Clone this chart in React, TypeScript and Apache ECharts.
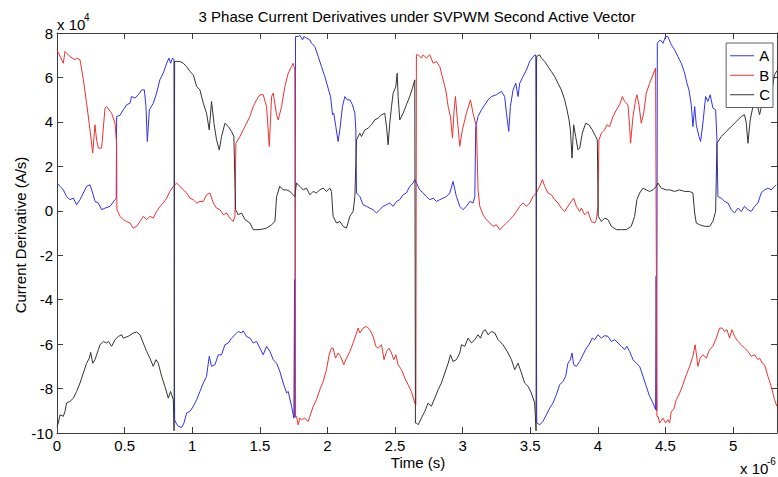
import React, { useEffect, useRef } from "react";
import * as echarts from "echarts";

const titleText = "3 Phase Current Derivatives under SVPWM Second Active Vector";
const xAxisName = "Time (s)";
const yAxisName = "Current Derivative (A/s)";
const seriesNames = ["A", "B", "C"];
const xRange = [0, 5.325];
const yRange = [-10, 8];

const seriesA: [number, number][] = [
  [0.000, 1.25], [0.022, 1.10], [0.047, 0.94], [0.071, 0.64], [0.096, 0.50], [0.121, 0.57], [0.145, 0.27], [0.170, 0.50],
  [0.195, 0.80], [0.219, 1.10], [0.244, 1.17], [0.264, 0.80], [0.281, 0.42], [0.306, 0.35], [0.330, 0.05], [0.355, 0.12],
  [0.392, 0.20], [0.429, 0.50], [0.438, 0.55], [0.441, 4.24], [0.466, 4.30], [0.490, 4.54], [0.515, 4.77], [0.540, 4.84],
  [0.552, 5.14], [0.577, 5.07], [0.601, 5.22], [0.626, 5.44], [0.646, 5.44], [0.658, 4.70], [0.668, 3.12], [0.683, 4.54],
  [0.712, 4.84], [0.737, 5.30], [0.761, 5.90], [0.786, 6.20], [0.811, 6.64], [0.828, 6.87], [0.840, 6.64], [0.855, 6.87],
  [0.865, 6.80], [0.867, -2.90], [0.870, -9.40], [0.880, -9.55], [0.897, -9.70], [0.922, -9.75], [0.939, -9.55], [0.959, -9.10],
  [0.983, -9.03], [1.008, -8.80], [1.033, -8.50], [1.057, -8.13], [1.082, -7.75], [1.106, -7.45], [1.126, -6.55], [1.143, -7.00],
  [1.168, -6.93], [1.193, -6.48], [1.217, -6.48], [1.242, -6.03], [1.267, -5.95], [1.291, -5.73], [1.316, -5.58], [1.340, -5.43],
  [1.365, -5.50], [1.377, -5.40], [1.402, -5.66], [1.427, -5.73], [1.451, -5.95], [1.476, -5.88], [1.501, -6.18], [1.525, -6.48],
  [1.550, -6.10], [1.575, -6.33], [1.599, -6.70], [1.624, -6.86], [1.648, -7.23], [1.673, -7.75], [1.698, -8.20], [1.710, -8.13],
  [1.735, -8.80], [1.752, -9.33], [1.757, -3.10], [1.760, -9.30], [1.764, 7.84], [1.784, 7.84], [1.796, 7.90], [1.816, 7.69],
  [1.826, 7.84], [1.845, 7.77], [1.870, 7.69], [1.882, 7.54], [1.907, 7.39], [1.932, 6.94], [1.956, 6.49], [1.981, 6.04],
  [2.005, 5.52], [2.023, 5.14], [2.038, 4.32], [2.047, 4.39], [2.062, 3.79], [2.079, 3.12], [2.092, 3.64], [2.111, 4.69],
  [2.129, 5.14], [2.146, 4.99], [2.166, 4.99], [2.185, 4.77], [2.203, 4.39], [2.210, 3.64], [2.215, 0.80], [2.240, 0.64],
  [2.264, 0.27], [2.289, 0.20], [2.313, 0.12], [2.338, 0.05], [2.363, -0.10], [2.387, 0.05], [2.412, 0.20], [2.437, 0.27],
  [2.461, 0.35], [2.486, 0.20], [2.511, 0.42], [2.535, 0.50], [2.560, 0.72], [2.584, 0.80], [2.609, 1.10], [2.634, 1.25],
  [2.646, 1.40], [2.658, 1.25], [2.683, 0.94], [2.708, 0.80], [2.732, 0.64], [2.757, 0.50], [2.782, 0.57], [2.806, 0.42],
  [2.831, 0.50], [2.856, 0.57], [2.880, 0.64], [2.905, 0.80], [2.929, 1.32], [2.954, 0.64], [2.979, 0.20], [3.003, 0.05],
  [3.028, 0.20], [3.053, 0.42], [3.077, 0.35], [3.090, 0.64], [3.097, 3.79], [3.114, 4.24], [3.139, 4.54], [3.164, 4.77],
  [3.188, 4.99], [3.213, 5.14], [3.250, 5.22], [3.287, 5.37], [3.311, 5.14], [3.324, 4.39], [3.341, 3.57], [3.353, 4.69],
  [3.373, 5.44], [3.393, 5.74], [3.410, 5.14], [3.422, 5.74], [3.447, 6.04], [3.472, 6.34], [3.496, 6.72], [3.521, 6.94],
  [3.541, 7.02], [3.545, -3.00], [3.548, -9.50], [3.550, -9.55], [3.570, -9.63], [3.594, -9.48], [3.619, -9.18], [3.644, -8.88],
  [3.668, -8.65], [3.693, -8.28], [3.718, -7.83], [3.742, -7.68], [3.762, -7.45], [3.779, -6.86], [3.797, -6.70], [3.809, -6.40],
  [3.821, -6.93], [3.841, -7.00], [3.866, -6.78], [3.890, -6.48], [3.915, -6.18], [3.934, -6.03], [3.959, -5.73], [3.976, -5.80],
  [4.001, -5.58], [4.026, -5.73], [4.050, -5.62], [4.075, -5.65], [4.100, -5.88], [4.124, -5.80], [4.149, -5.95], [4.174, -6.10],
  [4.198, -6.25], [4.215, -6.10], [4.235, -6.33], [4.260, -6.70], [4.284, -6.86], [4.309, -7.00], [4.334, -7.45], [4.358, -7.90],
  [4.383, -8.35], [4.408, -8.65], [4.427, -8.95], [4.431, -2.95], [4.435, -9.00], [4.440, 7.54], [4.445, 7.54], [4.462, 7.69],
  [4.482, 7.54], [4.501, 7.84], [4.518, 7.84], [4.543, 7.47], [4.568, 7.24], [4.592, 6.94], [4.617, 6.64], [4.642, 6.19],
  [4.659, 5.74], [4.674, 5.44], [4.691, 4.77], [4.703, 3.79], [4.716, 4.69], [4.728, 3.87], [4.748, 3.34], [4.760, 3.12],
  [4.777, 3.94], [4.797, 5.14], [4.814, 4.92], [4.831, 5.22], [4.851, 4.62], [4.871, 4.54], [4.881, 3.19], [4.888, 0.64],
  [4.913, 0.57], [4.937, 0.42], [4.962, 0.35], [4.987, 0.05], [5.011, -0.10], [5.036, 0.12], [5.061, -0.03], [5.085, 0.20],
  [5.110, 0.05], [5.135, -0.03], [5.159, 0.20], [5.184, 0.35], [5.208, 0.80], [5.233, 0.94], [5.258, 1.02], [5.282, 0.94],
  [5.319, 1.17],
];

const seriesB: [number, number][] = [
  [0.000, 7.24], [0.047, 6.64], [0.059, 7.17], [0.096, 6.94], [0.133, 6.80], [0.145, 6.87], [0.170, 6.80], [0.195, 5.90],
  [0.219, 4.84], [0.244, 3.64], [0.264, 2.60], [0.281, 3.87], [0.293, 3.19], [0.306, 2.82], [0.330, 2.82], [0.355, 4.62],
  [0.367, 4.69], [0.404, 4.39], [0.429, 3.94], [0.441, 3.00], [0.443, 0.05], [0.466, -0.25], [0.490, -0.40], [0.515, -0.48],
  [0.540, -0.55], [0.564, -0.78], [0.589, -0.70], [0.614, -0.48], [0.638, -0.25], [0.663, -0.40], [0.687, -0.25], [0.712, -0.33],
  [0.737, -0.03], [0.761, 0.20], [0.786, 0.35], [0.811, 0.57], [0.835, 0.87], [0.860, 1.10], [0.885, 1.25], [0.909, 1.10],
  [0.934, 0.94], [0.959, 0.80], [0.983, 0.57], [1.008, 0.50], [1.033, 0.35], [1.057, 0.42], [1.082, 0.42], [1.106, 0.72],
  [1.131, 0.80], [1.156, 0.35], [1.180, 0.12], [1.205, 0.05], [1.230, -0.18], [1.254, -0.10], [1.279, -0.33], [1.303, -0.48],
  [1.316, -0.25], [1.323, 3.04], [1.353, 3.34], [1.377, 3.64], [1.402, 3.94], [1.427, 4.24], [1.451, 4.69], [1.476, 4.99],
  [1.501, 5.22], [1.525, 5.22], [1.550, 4.69], [1.562, 3.64], [1.570, 2.90], [1.587, 5.14], [1.599, 5.29], [1.624, 4.32],
  [1.636, 4.09], [1.661, 4.69], [1.685, 5.59], [1.710, 6.19], [1.735, 6.49], [1.747, 6.64], [1.759, 6.34], [1.763, -9.25],
  [1.771, -9.25], [1.784, -9.63], [1.796, -9.33], [1.808, -9.40], [1.833, -9.33], [1.858, -9.48], [1.870, -9.25], [1.895, -8.80],
  [1.919, -8.50], [1.944, -8.05], [1.969, -7.68], [1.993, -7.15], [2.013, -6.48], [2.030, -6.18], [2.042, -6.18], [2.060, -6.63],
  [2.079, -6.40], [2.097, -6.55], [2.121, -6.93], [2.141, -6.63], [2.166, -6.33], [2.190, -5.95], [2.215, -5.50], [2.227, -5.28],
  [2.240, -5.50], [2.264, -5.28], [2.289, -5.20], [2.313, -5.35], [2.338, -5.65], [2.358, -6.10], [2.375, -6.18], [2.400, -6.03],
  [2.419, -6.70], [2.437, -6.33], [2.456, -6.18], [2.474, -6.40], [2.491, -6.70], [2.506, -6.48], [2.523, -6.93], [2.548, -7.15],
  [2.572, -7.53], [2.597, -7.83], [2.621, -8.13], [2.646, -8.65], [2.654, -8.73], [2.658, 7.02], [2.671, 7.02], [2.695, 6.87],
  [2.708, 7.02], [2.732, 6.87], [2.757, 7.02], [2.782, 6.64], [2.806, 6.72], [2.831, 6.49], [2.856, 5.89], [2.875, 5.44],
  [2.893, 4.69], [2.910, 4.24], [2.925, 3.27], [2.937, 4.54], [2.947, 5.14], [2.959, 4.24], [2.979, 2.90], [2.998, 3.64],
  [3.028, 4.39], [3.058, 4.99], [3.077, 4.39], [3.102, 3.79], [3.114, 0.95], [3.127, 0.20], [3.151, -0.18], [3.176, -0.40],
  [3.201, -0.55], [3.225, -0.70], [3.250, -0.63], [3.274, -0.85], [3.299, -0.70], [3.324, -0.55], [3.348, -0.40], [3.373, -0.25],
  [3.398, -0.03], [3.422, 0.20], [3.447, 0.35], [3.472, 0.20], [3.496, 0.35], [3.521, 0.64], [3.545, 0.80], [3.570, 1.10],
  [3.590, 1.40], [3.607, 1.10], [3.631, 0.80], [3.656, 0.72], [3.681, 0.50], [3.705, 0.35], [3.730, 0.12], [3.755, -0.03],
  [3.779, 0.20], [3.804, 0.42], [3.821, 0.57], [3.841, 0.20], [3.866, -0.03], [3.878, 0.12], [3.903, -0.18], [3.927, -0.03],
  [3.952, -0.48], [3.976, -0.55], [3.989, -0.40], [4.001, 0.20], [4.008, 3.19], [4.026, 3.49], [4.050, 3.64], [4.068, 3.87],
  [4.087, 3.79], [4.112, 4.24], [4.137, 4.54], [4.161, 4.77], [4.181, 5.14], [4.198, 4.92], [4.223, 4.77], [4.235, 3.79],
  [4.242, 3.04], [4.260, 4.24], [4.279, 4.99], [4.289, 5.22], [4.304, 4.77], [4.321, 3.94], [4.339, 4.39], [4.358, 5.29],
  [4.383, 5.74], [4.408, 6.12], [4.427, 6.42], [4.437, -9.25], [4.445, -9.25], [4.457, -9.55], [4.482, -9.33], [4.501, -9.55],
  [4.518, -9.40], [4.531, -9.55], [4.543, -9.03], [4.560, -8.95], [4.580, -8.50], [4.605, -8.20], [4.629, -7.83], [4.654, -7.38],
  [4.679, -7.00], [4.703, -6.55], [4.720, -6.03], [4.740, -7.00], [4.757, -6.63], [4.777, -6.48], [4.802, -6.63], [4.826, -6.25],
  [4.851, -6.10], [4.876, -5.73], [4.900, -5.28], [4.920, -5.28], [4.937, -5.43], [4.955, -5.35], [4.974, -5.73], [4.992, -5.35],
  [5.011, -5.65], [5.036, -5.88], [5.061, -6.03], [5.085, -6.18], [5.110, -6.33], [5.135, -6.55], [5.159, -6.48], [5.184, -6.70],
  [5.196, -6.63], [5.216, -6.85], [5.233, -6.93], [5.258, -7.45], [5.282, -7.90], [5.307, -8.50], [5.324, -8.80],
];

const seriesC: [number, number][] = [
  [0.000, -9.70], [0.010, -9.55], [0.022, -9.18], [0.047, -9.25], [0.059, -9.03], [0.071, -8.65], [0.096, -8.58], [0.121, -8.43],
  [0.145, -8.13], [0.170, -7.75], [0.195, -7.30], [0.219, -6.86], [0.239, -6.63], [0.249, -6.37], [0.264, -6.86], [0.281, -6.70],
  [0.306, -6.25], [0.318, -6.03], [0.343, -5.88], [0.367, -5.95], [0.380, -5.88], [0.404, -6.10], [0.429, -5.80], [0.453, -5.66],
  [0.478, -5.58], [0.490, -5.73], [0.527, -5.65], [0.564, -5.50], [0.589, -5.46], [0.614, -5.58], [0.638, -5.95], [0.663, -6.33],
  [0.687, -6.63], [0.712, -7.00], [0.732, -6.70], [0.749, -6.86], [0.774, -7.45], [0.798, -7.90], [0.823, -8.43], [0.840, -8.13],
  [0.860, -8.50], [0.866, -9.90], [0.870, 6.72], [0.885, 6.72], [0.909, 6.72], [0.934, 6.64], [0.959, 6.49], [0.983, 6.27],
  [1.008, 6.12], [1.033, 5.59], [1.057, 5.44], [1.082, 4.84], [1.106, 4.39], [1.126, 3.64], [1.143, 4.92], [1.161, 3.94],
  [1.180, 3.19], [1.200, 2.74], [1.217, 3.34], [1.242, 3.94], [1.267, 3.79], [1.291, 3.57], [1.308, 3.34], [1.321, 0.05],
  [1.340, -0.18], [1.365, -0.10], [1.390, -0.40], [1.427, -0.55], [1.451, -0.85], [1.501, -0.85], [1.550, -0.78], [1.587, -0.63],
  [1.612, -0.48], [1.624, 0.64], [1.648, 1.10], [1.673, 0.94], [1.698, 0.94], [1.722, 0.87], [1.747, 0.72], [1.759, 0.64],
  [1.771, 1.25], [1.796, 1.10], [1.821, 0.94], [1.845, 1.02], [1.870, 0.72], [1.895, 0.87], [1.919, 0.80], [1.944, 0.94],
  [1.969, 1.02], [1.993, 0.87], [2.018, 1.02], [2.030, 0.87], [2.042, -0.25], [2.067, -0.55], [2.092, -0.48], [2.116, -0.70],
  [2.141, -0.78], [2.166, -0.25], [2.190, -0.03], [2.203, 0.64], [2.215, 3.19], [2.240, 3.49], [2.252, 3.34], [2.277, 3.64],
  [2.301, 3.72], [2.326, 3.87], [2.350, 4.09], [2.375, 4.17], [2.400, 4.32], [2.424, 4.39], [2.437, 3.79], [2.449, 2.97],
  [2.461, 3.94], [2.474, 4.69], [2.486, 5.29], [2.506, 5.59], [2.516, 6.19], [2.523, 5.14], [2.535, 4.09], [2.560, 4.39],
  [2.584, 4.77], [2.609, 5.14], [2.629, 5.52], [2.646, 5.89], [2.651, -9.55], [2.658, -9.55], [2.671, -9.63], [2.695, -9.33],
  [2.720, -9.03], [2.745, -8.65], [2.769, -8.80], [2.794, -8.43], [2.819, -8.05], [2.843, -7.75], [2.868, -7.30], [2.893, -6.86],
  [2.910, -6.48], [2.929, -6.78], [2.954, -6.70], [2.979, -6.40], [2.991, -6.03], [3.016, -6.10], [3.040, -5.73], [3.065, -5.95],
  [3.090, -5.80], [3.114, -5.58], [3.132, -5.73], [3.151, -5.43], [3.168, -5.35], [3.188, -5.58], [3.213, -5.43], [3.238, -5.50],
  [3.262, -5.80], [3.299, -6.03], [3.336, -6.40], [3.361, -6.70], [3.385, -7.15], [3.410, -6.86], [3.435, -7.30], [3.459, -7.75],
  [3.484, -7.90], [3.508, -8.20], [3.533, -8.65], [3.543, -9.90], [3.547, 6.94], [3.570, 7.02], [3.582, 6.87], [3.607, 6.72],
  [3.631, 6.49], [3.656, 6.27], [3.681, 6.04], [3.705, 5.74], [3.730, 5.44], [3.755, 4.99], [3.772, 4.54], [3.787, 4.09],
  [3.797, 3.64], [3.809, 2.37], [3.821, 3.87], [3.836, 3.34], [3.853, 2.74], [3.866, 2.82], [3.885, 3.49], [3.910, 3.94],
  [3.934, 3.87], [3.959, 3.64], [3.984, 3.34], [3.996, 3.19], [4.003, -0.25], [4.026, -0.48], [4.050, -0.33], [4.075, -0.40],
  [4.100, -0.70], [4.137, -0.85], [4.174, -0.85], [4.210, -0.85], [4.247, -0.70], [4.272, -0.25], [4.289, 0.50], [4.309, 0.80],
  [4.334, 1.02], [4.358, 0.94], [4.383, 0.87], [4.408, 0.94], [4.432, 1.10], [4.445, 1.25], [4.469, 1.02], [4.506, 0.94],
  [4.531, 0.94], [4.568, 0.87], [4.604, 0.94], [4.642, 0.87], [4.679, 0.87], [4.703, 0.80], [4.716, -0.10], [4.728, -0.55],
  [4.753, -0.63], [4.790, -0.70], [4.827, -0.70], [4.851, -0.48], [4.871, -0.03], [4.881, 3.04], [4.913, 3.34], [4.950, 3.57],
  [4.987, 3.79], [5.024, 4.02], [5.061, 4.24], [5.085, 4.32], [5.098, 3.94], [5.110, 3.04], [5.127, 4.09], [5.147, 4.69],
  [5.171, 4.99], [5.196, 4.32], [5.221, 4.99], [5.258, 4.77], [5.282, 5.29], [5.307, 6.12], [5.324, 6.30],
];

const FONT = "'Liberation Sans', Arial, Helvetica, sans-serif";
const AXIS_COLOR = "#3c3c3c";
const LINE_COLORS = ["#3030f0", "#ee3030", "#333333"];

export default function App() {
  const ref = useRef<HTMLDivElement>(null);

  useEffect(() => {
    if (!ref.current) return;
    const chart = echarts.init(ref.current, undefined, { renderer: "svg" });

    const axisCommon = {
      type: "value" as const,
      splitLine: { show: false },
      axisLine: { show: true, onZero: false, lineStyle: { color: AXIS_COLOR, width: 1 } },
      axisTick: { show: true, inside: true, length: 6, lineStyle: { color: AXIS_COLOR } },
    };

    const option: any = {
      animation: false,
      backgroundColor: "#ffffff",
      textStyle: { fontFamily: FONT },
      grid: { left: 57, right: 1, top: 33, bottom: 44, containLabel: false },
      legend: {
        data: seriesNames.map((n) => ({ name: n, icon: "rect" })),
        orient: "vertical",
        right: 5,
        top: 43,
        padding: [5, 3, 5, 4],
        itemGap: 4,
        itemWidth: 24,
        itemHeight: 1,
        borderColor: "#606060",
        borderWidth: 1,
        backgroundColor: "#fff",
        textStyle: { fontFamily: FONT, fontSize: 15, color: "#000", lineHeight: 15.5 },
      },
      xAxis: [
        {
          ...axisCommon,
          position: "bottom",
          min: xRange[0],
          max: xRange[1],
          interval: 0.5,
          axisLabel: {
            show: true,
            showMaxLabel: false,
            margin: 5,
            color: "#000",
            fontFamily: FONT,
            fontSize: 15,
            formatter: (v: number) => String(v),
          },
        },
        {
          ...axisCommon,
          position: "top",
          min: xRange[0],
          max: xRange[1],
          interval: 0.5,
          axisLabel: { show: false },
        },
      ],
      yAxis: [
        {
          ...axisCommon,
          position: "left",
          min: yRange[0],
          max: yRange[1],
          interval: 2,
          axisLabel: { show: true, margin: 4, color: "#000", fontFamily: FONT, fontSize: 15 },
        },
        {
          ...axisCommon,
          position: "right",
          min: yRange[0],
          max: yRange[1],
          interval: 2,
          axisLabel: { show: false },
        },
      ],
      series: [seriesA, seriesB, seriesC].map((d, i) => ({
        name: seriesNames[i],
        type: "line",
        data: d,
        symbol: "none",
        showSymbol: false,
        lineStyle: { color: LINE_COLORS[i], width: 1 },
        itemStyle: { color: LINE_COLORS[i] },
        clip: true,
      })),
      graphic: [
        {
          type: "text",
          x: 417,
          y: 16,
          style: { text: titleText, font: `15px ${FONT}`, fill: "#000", textAlign: "center", textVerticalAlign: "middle" },
        },
        {
          type: "text",
          x: 20,
          y: 235,
          rotation: Math.PI / 2,
          style: { text: yAxisName, font: `15px ${FONT}`, fill: "#000", textAlign: "center", textVerticalAlign: "middle" },
        },
        {
          type: "text",
          x: 418,
          y: 462,
          style: { text: xAxisName, font: `15px ${FONT}`, fill: "#000", textAlign: "center", textVerticalAlign: "middle" },
        },
        {
          type: "text",
          x: 57,
          y: 24,
          style: { text: "x 10", font: `15px ${FONT}`, fill: "#000", textAlign: "left", textVerticalAlign: "middle" },
        },
        {
          type: "text",
          x: 84,
          y: 17,
          style: { text: "4", font: `10px ${FONT}`, fill: "#000", textAlign: "left", textVerticalAlign: "middle" },
        },
        {
          type: "text",
          x: 740,
          y: 468,
          style: { text: "x 10", font: `15px ${FONT}`, fill: "#000", textAlign: "left", textVerticalAlign: "middle" },
        },
        {
          type: "text",
          x: 767,
          y: 461,
          style: { text: "-6", font: `10px ${FONT}`, fill: "#000", textAlign: "left", textVerticalAlign: "middle" },
        },
      ],
    };

    chart.setOption(option);
    return () => chart.dispose();
  }, []);

  return (
    <div
      ref={ref}
      style={{ position: "fixed", left: 0, top: 0, width: 778, height: 477, background: "#fff" }}
    />
  );
}
